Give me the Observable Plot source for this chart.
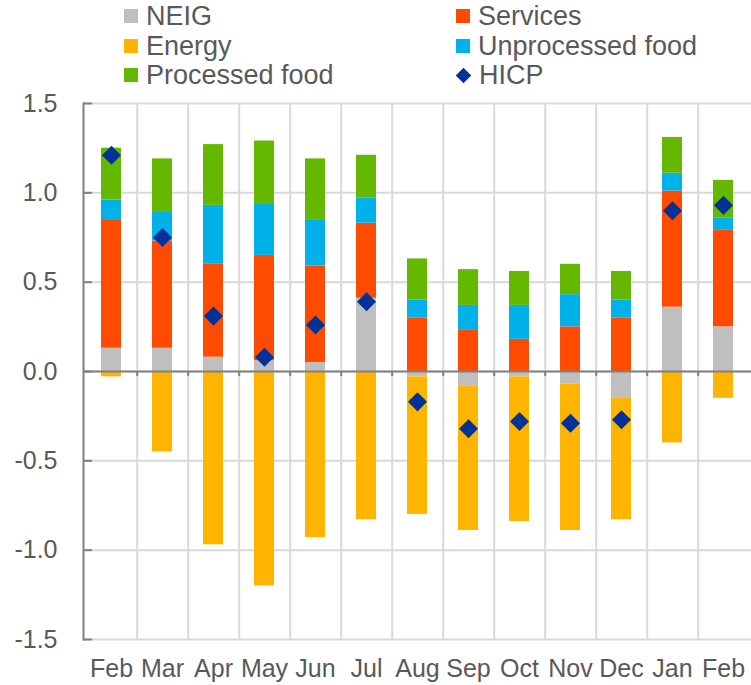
<!DOCTYPE html>
<html><head><meta charset="utf-8">
<script src="https://cdn.jsdelivr.net/npm/d3@7"></script>
<script src="https://cdn.jsdelivr.net/npm/@observablehq/plot@0.6"></script>
<style>
body{margin:0;background:#fff;font-family:"Liberation Sans",Arial,sans-serif;}
#legend{position:relative;height:90px;width:751px;color:#595959;font-size:27px;}
.item{position:absolute;height:30px;display:flex;align-items:center;line-height:1;white-space:nowrap;}
.sw{width:14px;height:14px;margin-right:8px;}
.dia{width:11px;height:11px;margin:0 10px 0 2px;transform:rotate(45deg);}
</style></head><body>
<div id="legend"></div>
<div id="chart"></div>
<script>
const months = ["Feb","Mar","Apr","May","Jun","Jul","Aug","Sep","Oct","Nov","Dec","Jan","Feb"];
const neig      = [0.13,0.13,0.08,0.06,0.05,0.41,-0.03,-0.08,-0.03,-0.07,-0.15,0.36,0.25];
const energy    = [-0.03,-0.45,-0.97,-1.20,-0.93,-0.83,-0.77,-0.81,-0.81,-0.82,-0.68,-0.40,-0.15];
const services  = [0.72,0.60,0.52,0.59,0.54,0.42,0.30,0.23,0.18,0.25,0.30,0.65,0.54];
const unprocessed = [0.11,0.16,0.33,0.29,0.26,0.14,0.10,0.14,0.19,0.18,0.10,0.10,0.07];
const processed = [0.29,0.30,0.34,0.35,0.34,0.24,0.23,0.20,0.19,0.17,0.16,0.20,0.21];
const hicp      = [1.21,0.75,0.31,0.08,0.26,0.39,-0.17,-0.32,-0.28,-0.29,-0.27,0.90,0.93];
const yTicks = [-1.5,-1.0,-0.5,0,0.5,1.0,1.5];

const seriesNames = ["NEIG","Energy","Services","Unprocessed food","Processed food"];
const seriesValues = [neig, energy, services, unprocessed, processed];
const seriesColors = ["#bfbfbf","#ffb400","#ff4b00","#00b1ea","#65b800"];
const hicpColor = "#003299";

const data = seriesNames.flatMap((name, s) => seriesValues[s].map((v, i) => ({i, key: name, v})));
const hicpData = hicp.map((v, i) => ({i, v}));

// legend
const legendItems = [
  {name:"NEIG", color:"#bfbfbf", left:124, top:1},
  {name:"Services", color:"#ff4b00", left:456, top:1},
  {name:"Energy", color:"#ffb400", left:124, top:31},
  {name:"Unprocessed food", color:"#00b1ea", left:456, top:31},
  {name:"Processed food", color:"#65b800", left:124, top:60},
  {name:"HICP", color:hicpColor, left:456, top:60, diamond:true}
];
const leg = document.getElementById("legend");
for (const it of legendItems) {
  const d = document.createElement("div");
  d.className = "item";
  d.style.left = it.left + "px";
  d.style.top = it.top + "px";
  const s = document.createElement("span");
  s.className = it.diamond ? "dia" : "sw";
  s.style.background = it.color;
  d.appendChild(s);
  d.appendChild(document.createTextNode(it.name));
  leg.appendChild(d);
}

const W = 751, ML = 83, MR = 0;
const step = (W - ML - MR) / months.length;
const axisColor = "#808080", gridColor = "#d9d9d9";

const chart = Plot.plot({
  width: W, height: 595,
  marginTop: 13, marginBottom: 46, marginLeft: ML, marginRight: MR,
  style: {fontFamily: "Liberation Sans, Arial, sans-serif", fontSize: "25px", color: "#595959", background: "#fff"},
  x: {type: "band", domain: d3.range(months.length), paddingInner: 0.61, paddingOuter: 0.305},
  y: {domain: [-1.5, 1.5]},
  color: {domain: seriesNames, range: seriesColors},
  marks: [
    Plot.ruleY(yTicks, {y: d => d, stroke: gridColor, strokeWidth: 2}),
    Plot.ruleX(d3.range(months.length - 1), {x: d => d, dx: step / 2, stroke: gridColor, strokeWidth: 2}),
    Plot.barY(data, {x: "i", y: "v", fill: "key"}),
    Plot.ruleY([0], {stroke: axisColor, strokeWidth: 2}),
    Plot.ruleX(d3.range(months.length - 1), {x: d => d, dx: step / 2, y1: 0, y2: 0, insetTop: 0, insetBottom: -5, stroke: axisColor, strokeWidth: 2}),
    Plot.ruleY(yTicks, {y: d => d, insetRight: (W - ML - MR) - 9, stroke: axisColor, strokeWidth: 2}),
    Plot.frame({anchor: "left", stroke: axisColor, strokeWidth: 2}),
    Plot.dot(hicpData, {x: "i", y: "v", symbol: "diamond2", r: 8.6, fill: hicpColor, stroke: null}),
    Plot.axisY(yTicks, {tickSize: 0, tickPadding: 26, tickFormat: d => d.toFixed(1), label: null}),
    Plot.axisX({tickSize: 0, tickPadding: 20, tickFormat: i => months[i], label: null})
  ]
});
document.getElementById("chart").appendChild(chart);
</script>
</body></html>
